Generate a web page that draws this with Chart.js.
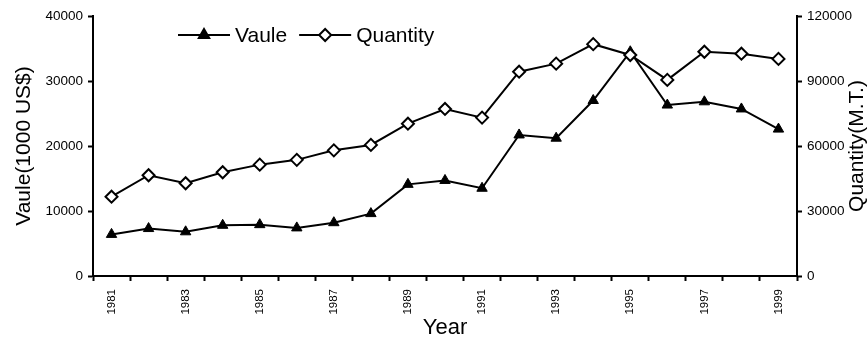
<!DOCTYPE html>
<html>
<head>
<meta charset="utf-8">
<script src="https://cdn.jsdelivr.net/npm/chart.js@4/dist/chart.umd.min.js"></script>
<style>
  html, body { margin: 0; padding: 0; background: #fff; }
  #wrap { width: 868px; height: 343px; }
</style>
</head>
<body>
<div id="wrap"><canvas id="c" width="868" height="343"></canvas></div>
<script>
/* Vaule (1000 US$, left axis) and Quantity (M.T., right axis), 1981-1999 */
const years = ["1981", "1982", "1983", "1984", "1985", "1986", "1987", "1988", "1989", "1990",
               "1991", "1992", "1993", "1994", "1995", "1996", "1997", "1998", "1999"];
const vaule = [6400, 7300, 6800, 7800, 7900, 7400, 8200, 9600, 14100, 14700,
               13500, 21700, 21200, 27000, 34500, 26300, 26800, 25700, 22600];
const quantity = [36600, 46500, 42800, 47900, 51400, 53600, 58000, 60500, 70300, 77100,
                  73100, 94300, 98000, 107000, 102000, 90500, 103500, 102600, 100200];
const leftTicks = [0, 10000, 20000, 30000, 40000];
const rightTicks = [0, 30000, 60000, 90000, 120000];

const FONT = "'Liberation Sans', Arial, sans-serif";
Chart.defaults.font.family = FONT;
Chart.defaults.color = "#000";

// legend drawn as line + marker + label inside the plot, like the spreadsheet original
const lineLegend = {
  id: "lineLegend",
  afterDraw(chart) {
    const ctx = chart.ctx, a = chart.chartArea;
    let x = a.left + 85;
    const y = a.top + 19;
    ctx.save();
    ctx.font = "21px " + FONT;
    ctx.textBaseline = "middle";
    chart.data.datasets.forEach(ds => {
      ctx.strokeStyle = "#000"; ctx.lineWidth = 2;
      ctx.beginPath(); ctx.moveTo(x, y); ctx.lineTo(x + 52, y); ctx.stroke();
      ctx.fillStyle = ds.pointBackgroundColor;
      Chart.helpers.drawPoint(ctx, { pointStyle: ds.pointStyle, radius: ds.pointRadius,
        rotation: 0, borderWidth: ds.pointBorderWidth }, x + 26, y);
      ctx.fillStyle = "#000";
      ctx.fillText(ds.label, x + 57, y + 1);
      x += 57 + ctx.measureText(ds.label).width + 12;
    });
    ctx.restore();
  },
};

// right-axis title reads bottom-to-top, same as the left one
const rightTitle = {
  id: "rightTitle",
  afterDraw(chart) {
    const ctx = chart.ctx, s = chart.scales.y1, a = chart.chartArea;
    ctx.save();
    ctx.translate(s.right - 11, (a.top + a.bottom) / 2);
    ctx.rotate(-Math.PI / 2);
    ctx.font = "21px " + FONT;
    ctx.fillStyle = "#000";
    ctx.textAlign = "center";
    ctx.textBaseline = "middle";
    ctx.fillText("Quantity(M.T.)", 0, 0);
    ctx.restore();
  },
};

const axisGrid = { drawOnChartArea: false, color: "#000", tickLength: 5, tickWidth: 2 };
const axisBorder = { color: "#000", width: 2 };

new Chart(document.getElementById("c"), {
  type: "line",
  data: {
    labels: years,
    datasets: [
      { label: "Vaule", data: vaule, yAxisID: "y", order: 1,
        borderColor: "#000", borderWidth: 2, pointStyle: "triangle", pointRadius: 6,
        pointBackgroundColor: "#000", pointBorderColor: "#000", pointBorderWidth: 1 },
      { label: "Quantity", data: quantity, yAxisID: "y1", order: 0,
        borderColor: "#000", borderWidth: 2, pointStyle: "rectRot", pointRadius: 6,
        pointBackgroundColor: "#fff", pointBorderColor: "#000", pointBorderWidth: 2 },
    ],
  },
  options: {
    responsive: false, animation: false,
    layout: { padding: { top: 16, left: 0, right: 0, bottom: 0 } },
    plugins: { legend: { display: false }, tooltip: { enabled: false } },
    scales: {
      x: {
        offset: true,
        grid: { ...axisGrid, offset: true },
        border: axisBorder,
        ticks: { autoSkip: false, minRotation: 90, maxRotation: 90, padding: 8,
          font: { size: 11.5 }, callback: (v, i) => (i % 2 === 0 ? years[i] : "") },
        title: { display: true, text: "Year", font: { size: 22 }, padding: { top: 0, bottom: 2 } },
        afterFit: s => { s.height = 67; },
      },
      y: {
        position: "left", min: 0, max: 40000,
        grid: axisGrid, border: axisBorder,
        afterBuildTicks: s => { s.ticks = leftTicks.map(v => ({ value: v })); },
        ticks: { font: { size: 13.5 }, padding: 5, callback: v => String(v) },
        title: { display: true, text: "Vaule(1000 US$)", font: { size: 21 }, padding: { top: 12 } },
        afterFit: s => { s.width = 93; },
      },
      y1: {
        position: "right", min: 0, max: 120000,
        grid: axisGrid, border: axisBorder,
        afterBuildTicks: s => { s.ticks = rightTicks.map(v => ({ value: v })); },
        ticks: { font: { size: 13.5 }, padding: 5, callback: v => String(v) },
        afterFit: s => { s.width = 71; },
      },
    },
  },
  plugins: [lineLegend, rightTitle],
});
</script>
</body>
</html>
